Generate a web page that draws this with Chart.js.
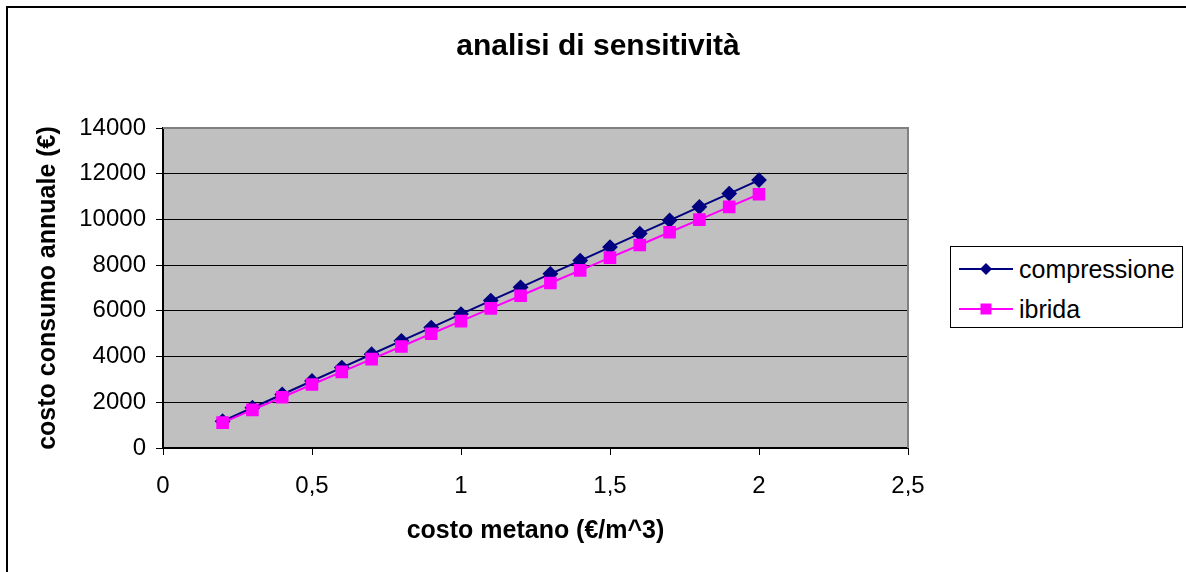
<!DOCTYPE html>
<html>
<head>
<meta charset="utf-8">
<script src="https://cdn.jsdelivr.net/npm/chart.js@4"></script>
<style>
  html, body { margin: 0; padding: 0; background: #fff; overflow: hidden; }
  #wrap { position: relative; width: 1186px; height: 572px; }
  #frame { position: absolute; left: 6px; top: 6px; width: 1300px; height: 700px; border: 2px solid #000; box-sizing: border-box; }
  canvas { position: absolute; left: 0; top: 0; }
  #legend { position: absolute; left: 950px; top: 246px; width: 233px; height: 82px; border: 1px solid #000;
            box-sizing: border-box; background: #fff; font-family: "Liberation Sans", Arial, sans-serif; font-size: 25px; }
  .row { position: absolute; left: 8px; height: 30px; display: flex; align-items: center; }
  .row svg { margin-right: 6px; }
</style>
</head>
<body>
<div id="wrap">
  <div id="frame"></div>
  <canvas id="sensChart" width="1186" height="572"></canvas>
  <div id="legend"></div>
</div>
<script>
const costoMetano = [0.2, 0.3, 0.4, 0.5, 0.6, 0.7, 0.8, 0.9, 1.0, 1.1, 1.2, 1.3, 1.4, 1.5, 1.6, 1.7, 1.8, 1.9, 2.0];
const compressione = [1170, 1760, 2340, 2930, 3520, 4100, 4690, 5270, 5860, 6450, 7030, 7620, 8200, 8790, 9380, 9960, 10550, 11130, 11720];
const ibrida = [1110, 1670, 2220, 2780, 3330, 3890, 4440, 5000, 5550, 6110, 6660, 7220, 7770, 8330, 8880, 9440, 9990, 10550, 11100];
const seriesNames = ['compressione', 'ibrida'];
const seriesColors = ['#000080', '#FF00FF'];

const FONT = '"Liberation Sans", Arial, sans-serif';

function toPoints(xs, ys) {
    return xs.map((x, i) => ({ x: x, y: ys[i] }));
}

// grey plot area + grey frame, like the old excel charts
const plotArea = {
    id: 'plotArea',
    beforeDraw(chart) {
        const a = chart.chartArea;
        const c = chart.ctx;
        c.save();
        c.fillStyle = '#C0C0C0';
        c.fillRect(a.left, a.top, a.right - a.left, a.bottom - a.top);
        c.restore();
    },
    beforeDatasetsDraw(chart) {
        const a = chart.chartArea;
        const c = chart.ctx;
        c.save();
        c.strokeStyle = '#808080';
        c.lineWidth = 2;
        c.beginPath();
        c.moveTo(a.left, a.top);
        c.lineTo(a.right, a.top);
        c.lineTo(a.right, a.bottom);
        c.stroke();
        c.restore();
    }
};

const ctx = document.getElementById('sensChart').getContext('2d');

const data = {
    datasets: [
        {
            label: seriesNames[0],
            data: toPoints(costoMetano, compressione),
            borderColor: seriesColors[0],
            backgroundColor: seriesColors[0],
            borderWidth: 2,
            pointStyle: 'rectRot',
            pointRadius: 6.5,
            order: 1,
        },
        {
            label: seriesNames[1],
            data: toPoints(costoMetano, ibrida),
            borderColor: seriesColors[1],
            backgroundColor: seriesColors[1],
            borderWidth: 2,
            pointStyle: 'rect',
            pointRadius: 7.5,
            order: 0,
        }
    ]
};

const config = {
    type: 'line',
    data: data,
    plugins: [plotArea],
    options: {
        responsive: false,
        animation: false,
        devicePixelRatio: 1,
        layout: { padding: { left: 10, right: 0, top: 0, bottom: 0 } },
        plugins: {
            legend: { display: false },
            tooltip: { enabled: false },
            title: {
                display: true,
                text: 'analisi di sensitività',
                color: '#000',
                font: { family: FONT, size: 30, weight: 'bold' },
                padding: { top: 29, bottom: 63 },
            }
        },
        scales: {
            x: {
                type: 'linear',
                min: 0,
                max: 2.5,
                afterFit: s => { s.height = 124; },
                ticks: {
                    stepSize: 0.5,
                    color: '#000',
                    padding: 17,
                    font: { family: FONT, size: 24 },
                    callback: v => String(v).replace('.', ','),
                },
                grid: { drawOnChartArea: false, color: '#000', tickLength: 7 },
                border: { color: '#000', width: 2 },
                title: {
                    display: true,
                    text: 'costo metano (€/m^3)',
                    color: '#000',
                    font: { family: FONT, size: 25, weight: 'bold' },
                    padding: { top: 0, bottom: 26 },
                }
            },
            y: {
                min: 0,
                max: 14000,
                afterFit: s => { s.width = 153; },
                ticks: {
                    stepSize: 2000,
                    color: '#000',
                    padding: 10,
                    font: { family: FONT, size: 24 },
                    callback: v => String(v),
                },
                grid: { color: '#000', lineWidth: 1, tickLength: 7 },
                border: { color: '#000', width: 2 },
                title: {
                    display: true,
                    text: 'costo consumo annuale (€)',
                    color: '#000',
                    font: { family: FONT, size: 25, weight: 'bold' },
                    padding: { top: 23, bottom: 0 },
                }
            },
            // empty axis that keeps the room for the legend on the right
            spacer: {
                type: 'linear',
                position: 'right',
                display: true,
                afterFit: s => { s.width = 278; },
                ticks: { display: false },
                grid: { display: false },
                border: { display: false },
            }
        }
    }
};

const myChart = new Chart(ctx, config);

// legend box
const legendEl = document.getElementById('legend');
seriesNames.forEach((name, i) => {
    const row = document.createElement('div');
    row.className = 'row';
    row.style.top = (i === 0 ? 7 : 47) + 'px';
    const marker = i === 0
        ? '<polygon points="27,9 33,15 27,21 21,15" fill="' + seriesColors[i] + '"/>'
        : '<rect x="21.5" y="9.5" width="11" height="11" fill="' + seriesColors[i] + '"/>';
    row.innerHTML = '<svg width="54" height="30"><line x1="0" y1="15" x2="54" y2="15" stroke="' + seriesColors[i] +
        '" stroke-width="2"/>' + marker + '</svg><span>' + name + '</span>';
    legendEl.appendChild(row);
});
</script>
</body>
</html>
